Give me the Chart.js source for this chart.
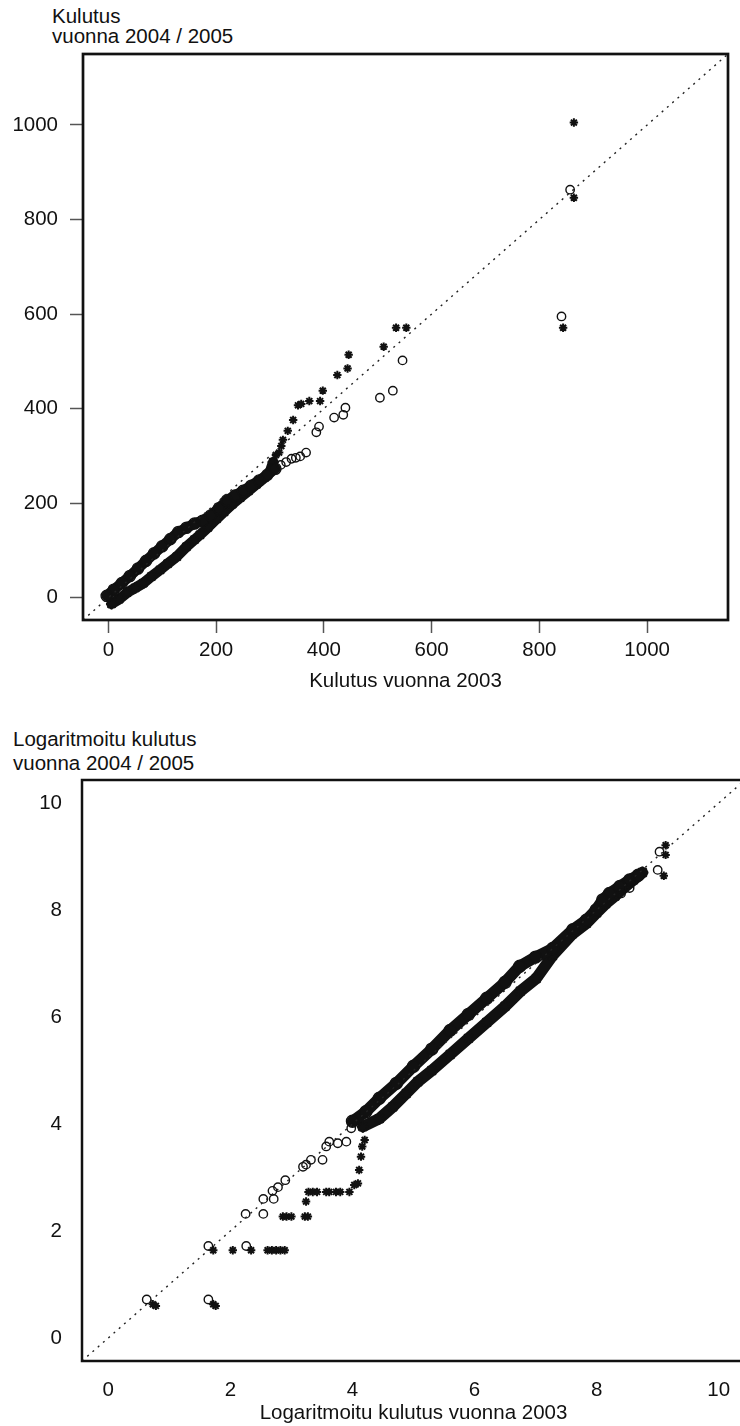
<!DOCTYPE html>
<html>
<head>
<meta charset="utf-8">
<title>Kulutus 2003 vs 2004 / 2005</title>
<script src="https://cdn.jsdelivr.net/npm/chart.js@4.4.1/dist/chart.umd.min.js"></script>
<style>
  html, body { margin: 0; padding: 0; width: 740px; height: 1426px; overflow: hidden; background: #fff; }
  .ytitle {
    position: absolute; white-space: nowrap; color: #111;
    font: 20.5px "Liberation Sans", Arial, Helvetica, sans-serif; line-height: 24px;
  }
  canvas { position: absolute; left: 0; }
</style>
</head>
<body>
<div class="ytitle" style="left:52px;top:4px">Kulutus</div>
<div class="ytitle" style="left:52px;top:24px">vuonna 2004 / 2005</div>
<div class="ytitle" style="left:13px;top:727px">Logaritmoitu kulutus</div>
<div class="ytitle" style="left:13px;top:751px">vuonna 2004 / 2005</div>

<canvas id="rawChart" width="740" height="710" style="top:0"></canvas>
<canvas id="logChart" width="760" height="716" style="top:710px"></canvas>

<script>
"use strict";

/* ---------- upper panel: consumption, 2003 vs 2004 (o) / 2005 (*) ---------- */
const rawTicks = [0, 200, 400, 600, 800, 1000];
const rawLimits = [-47, 1150];

// dense part of the quantile cloud (markers overlap into a solid band)
const rawCircBandX = [-3, 10, 25, 40, 55, 70, 85, 100, 115, 130, 145, 160, 175, 190, 205, 220, 235, 250, 265, 280, 295, 310];
const rawCircBandY = [4, 17, 31, 46, 62, 78, 94, 109, 124, 139, 148, 157, 163, 174, 189, 206, 216, 226, 237, 248, 260, 273];
const rawStarBandX = [6, 20, 35, 50, 65, 80, 96, 110, 127, 145, 160, 170, 185, 201, 215, 230, 245, 260, 275, 290, 300, 306];
const rawStarBandY = [-13, -3, 11, 21, 31, 45, 59, 72, 87, 108, 123, 133, 149, 167, 182, 198, 212, 226, 240, 254, 266, 287];

// upper tail, single markers
const rawCircX = [320, 330, 340, 348, 356, 367, 386, 391, 419, 436, 440, 504, 528, 546, 841, 857];
const rawCircY = [281, 287, 294, 296, 299, 307, 350, 362, 381, 387, 402, 423, 438, 502, 595, 863];
const rawStarX = [311, 317, 321, 324, 333, 343, 352, 358, 373, 393, 398, 425, 444, 446, 511, 534, 553, 844, 864, 864];
const rawStarY = [302, 307, 321, 334, 353, 376, 407, 410, 416, 416, 438, 471, 485, 514, 531, 571, 571, 571, 846, 1005];

/* ---------- lower panel: log consumption ---------- */
const logTicks = [0, 2, 4, 6, 8, 10];
const logLimits = [-0.43, 10.43];

const logCircBandX = [4.0, 4.22, 4.44, 4.72, 5.0, 5.3, 5.6, 5.9, 6.2, 6.5, 6.74, 7.0, 7.28, 7.61, 7.83, 7.99, 8.1, 8.21, 8.38, 8.54, 8.68];
const logCircBandY = [4.05, 4.23, 4.48, 4.76, 5.08, 5.4, 5.75, 6.05, 6.35, 6.65, 6.95, 7.12, 7.28, 7.63, 7.81, 8.0, 8.19, 8.31, 8.44, 8.56, 8.65];
const logStarBandX = [4.17, 4.44, 4.66, 4.88, 5.07, 5.3, 5.6, 5.9, 6.2, 6.5, 6.75, 7.01, 7.28, 7.6, 7.83, 8.0, 8.15, 8.3, 8.45, 8.6, 8.75];
const logStarBandY = [3.95, 4.1, 4.32, 4.57, 4.79, 5.0, 5.3, 5.6, 5.9, 6.2, 6.48, 6.72, 7.15, 7.55, 7.75, 7.95, 8.12, 8.26, 8.42, 8.56, 8.7];

const logCircX = [0.63, 1.64, 1.64, 2.26, 2.25, 2.54, 2.54, 2.71, 2.69, 2.78, 2.9, 3.19, 3.24, 3.32, 3.51, 3.57, 3.62, 3.76, 3.9, 3.98, 8.4, 8.54, 9.0, 9.03];
const logCircY = [0.72, 0.72, 1.72, 1.72, 2.32, 2.32, 2.6, 2.6, 2.75, 2.82, 2.95, 3.2, 3.24, 3.33, 3.33, 3.58, 3.67, 3.64, 3.67, 3.92, 8.31, 8.41, 8.75, 9.09];
const logStarX = [0.73, 0.78, 1.72, 1.76, 1.72, 2.04, 2.34, 2.61, 2.68, 2.75, 2.82, 2.89, 2.86, 2.92, 3.0, 3.22, 3.27, 3.24,
                  3.28, 3.35, 3.42, 3.57, 3.62, 3.73, 3.8, 3.95, 4.03, 4.09, 4.11, 4.14, 4.16, 4.2, 9.1, 9.13, 9.13];
const logStarY = [0.63, 0.6, 0.63, 0.6, 1.64, 1.64, 1.64, 1.64, 1.64, 1.64, 1.64, 1.64, 2.27, 2.27, 2.27, 2.27, 2.27, 2.55,
                  2.73, 2.73, 2.73, 2.73, 2.73, 2.73, 2.73, 2.73, 2.86, 2.89, 3.14, 3.39, 3.58, 3.7, 8.64, 9.03, 9.21];

const FONT = "'Liberation Sans', Arial, Helvetica, sans-serif";
const INK = "#111";

const toPoints = (xs, ys) => xs.map((x, i) => ({ x, y: ys[i] }));

// full box round the plotting region, like R's box()
const framePlugin = {
  id: "frame",
  afterDraw(chart, args, opts) {
    const { ctx, chartArea: a } = chart;
    ctx.save();
    ctx.lineWidth = opts.width;
    ctx.strokeStyle = INK;
    ctx.strokeRect(a.left, a.top, a.right - a.left, a.bottom - a.top);
    ctx.restore();
  }
};

function buildQQ(canvasId, s) {
  const canvas = document.getElementById(canvasId);
  const W = canvas.width, H = canvas.height;
  const font = { family: FONT, size: 20.5 };
  const circ = r => ({ pointStyle: "circle", pointRadius: r, pointBorderWidth: 1.4,
                       pointBorderColor: INK, pointBackgroundColor: "transparent" });
  const star = r => ({ pointStyle: "star", pointRadius: r, pointBorderWidth: 2,
                       pointBorderColor: INK, pointBackgroundColor: INK });
  // dense quantiles: overlapping markers merge, drawn as a wide stroke through them
  const band = { showLine: true, borderColor: INK, borderWidth: s.bandWidth,
                 borderCapStyle: "round", borderJoinStyle: "round" };

  const ticksFrom = list => scale => { scale.ticks = list.map(v => ({ value: v })); };
  const gridFor = () => ({
    display: true, drawOnChartArea: false, drawTicks: s.tickLen > 0,
    tickLength: s.tickLen, tickWidth: 1.5, tickColor: "#555"
  });

  return new Chart(canvas, {
    type: "scatter",
    data: {
      datasets: [
        { data: toPoints(s.limits, s.limits), showLine: true, pointRadius: 0,
          borderColor: "#222", borderWidth: 1.4, borderDash: [2, 5] },
        { data: toPoints(s.circX, s.circY), ...circ(s.radius) },
        { data: toPoints(s.starX, s.starY), ...star(s.radius) },
        { data: toPoints(s.circBandX, s.circBandY), ...band, ...circ(s.bandRadius) },
        { data: toPoints(s.starBandX, s.starBandY), ...band, ...star(s.bandRadius) }
      ]
    },
    options: {
      responsive: false,
      animation: false,
      events: [],
      layout: { padding: { left: 0, top: s.area.top, right: W - s.area.right, bottom: 0 } },
      plugins: { legend: { display: false }, tooltip: { enabled: false }, frame: { width: s.frameWidth } },
      scales: {
        x: {
          type: "linear", min: s.limits[0], max: s.limits[1],
          afterBuildTicks: ticksFrom(s.ticks),
          afterFit: scale => { scale.height = H - s.area.bottom; },
          grid: gridFor(),
          border: { display: false },
          ticks: { padding: s.xPad, font, color: INK, autoSkip: false, maxRotation: 0, callback: v => String(v) },
          title: { display: true, text: s.title, font, color: INK, padding: { top: 0, bottom: s.titlePad } }
        },
        y: {
          type: "linear", min: s.limits[0], max: s.limits[1],
          afterBuildTicks: ticksFrom(s.ticks),
          afterFit: scale => { scale.width = s.area.left; },
          grid: gridFor(),
          border: { display: false },
          ticks: { padding: s.yPad, font, color: INK, autoSkip: false, callback: v => String(v) }
        }
      }
    },
    plugins: [framePlugin]
  });
}

buildQQ("rawChart", {
  ticks: rawTicks, limits: rawLimits,
  circBandX: rawCircBandX, circBandY: rawCircBandY, starBandX: rawStarBandX, starBandY: rawStarBandY,
  circX: rawCircX, circY: rawCircY, starX: rawStarX, starY: rawStarY,
  area: { left: 83, top: 54, right: 728, bottom: 620 },
  tickLen: 13, xPad: 5, yPad: 12, titlePad: 16,
  title: "Kulutus vuonna 2003",
  radius: 4.2, bandRadius: 5.6, bandWidth: 10.5, frameWidth: 2.7
});

buildQQ("logChart", {
  ticks: logTicks, limits: logLimits,
  circBandX: logCircBandX, circBandY: logCircBandY, starBandX: logStarBandX, starBandY: logStarBandY,
  circX: logCircX, circY: logCircY, starX: logStarX, starY: logStarY,
  area: { left: 82, top: 70, right: 745, bottom: 651 },
  tickLen: 0, xPad: 17, yPad: 20, titlePad: 0,
  title: "Logaritmoitu kulutus vuonna 2003",
  radius: 4.2, bandRadius: 6, bandWidth: 11.5, frameWidth: 2.5
});
</script>
</body>
</html>
